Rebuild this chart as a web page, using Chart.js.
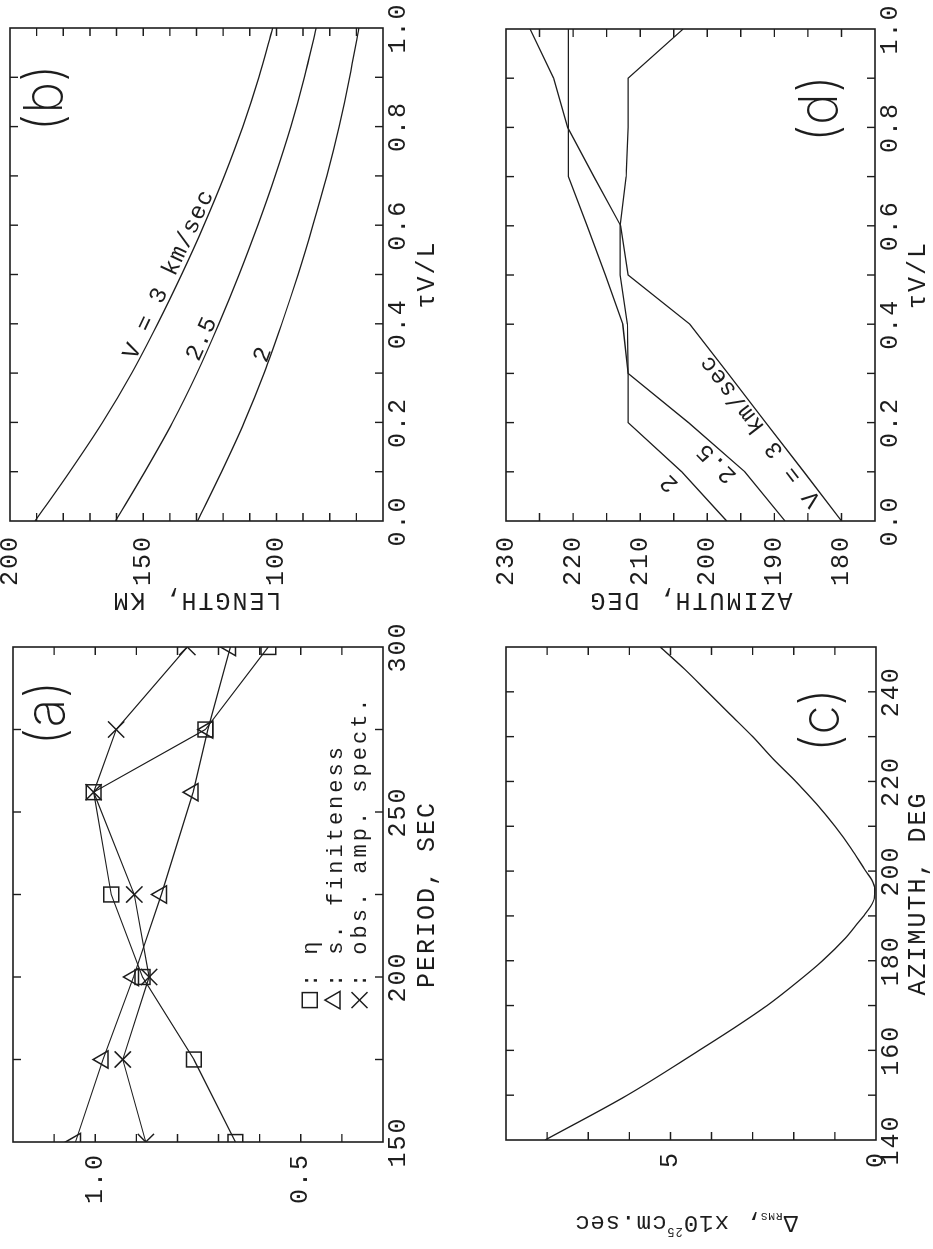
<!DOCTYPE html>
<html lang="en">
<head>
<meta charset="utf-8">
<title>Rupture length, azimuth and source finiteness</title>
<script src="https://cdn.jsdelivr.net/npm/chart.js@4.4.1/dist/chart.umd.min.js"></script>
<style>
  html, body { margin: 0; padding: 0; background: #ffffff; }
  body { position: relative; width: 933px; height: 1249px; overflow: hidden; }
  .panel { position: absolute; transform-origin: 0 0; }
  .panel canvas { display: block; }
</style>
</head>
<body>
<div class="panel" id="panel-b"><canvas id="chart-b"></canvas></div>
<div class="panel" id="panel-d"><canvas id="chart-d"></canvas></div>
<div class="panel" id="panel-a"><canvas id="chart-a"></canvas></div>
<div class="panel" id="panel-c"><canvas id="chart-c"></canvas></div>
<script>
// ---- data -------------------------------------------------------------
// (b) fault length vs tau*V/L for three rupture velocities
const tauVL = [0, 0.1, 0.2, 0.3, 0.4, 0.5, 0.6, 0.7, 0.8, 0.9, 1.0];
const lengthV3  = [190.6, 177.6, 165.3, 154.3, 144.6, 135.6, 127.2, 119.5, 112.6, 106.6, 101.4];
const lengthV25 = [160.4, 149.4, 139.0, 129.8, 121.6, 114.0, 107.0, 100.5, 94.6, 89.5, 85.1];
const lengthV2  = [129.6, 120.6, 112.1, 104.6, 98.0, 91.9, 86.3, 81.1, 76.5, 72.5, 69.1];

// (d) rupture azimuth vs tau*V/L
const azimuthV3  = [180.0, 185.6, 191.3, 196.9, 202.6, 211.8, 212.9, 216.9, 220.8, 222.9, 226.4];
const azimuthV25 = [188.4, 194.4, 202.8, 211.8, 212.6, 215.2, 217.9, 220.7, 220.7, 220.7, 220.7];
const azimuthV2  = [197.1, 203.8, 211.8, 211.8, 211.9, 213.0, 213.0, 212.1, 211.8, 211.8, 203.6];

// (a) ratios vs period
const periods = [150, 175, 200, 225, 256, 275, 300];
const etaValues        = [0.659, 0.760, 0.885, 0.961, 1.004, 0.732, 0.579];
const finitenessValues = [1.048, 0.981, 0.907, 0.839, 0.762, 0.726, 0.671];
const obsAmpValues     = [0.877, 0.933, 0.869, 0.905, 1.004, 0.949, 0.776];

// (c) rms misfit vs azimuth
const rmsAzimuths = [140, 150, 160, 165, 170, 175, 180, 185, 188, 190, 192, 194, 196, 198, 200, 205, 210, 215, 220, 225, 230, 235, 240, 245, 250];
const rmsValues   = [8.05, 6.05, 4.30, 3.45, 2.65, 1.95, 1.30, 0.75, 0.48, 0.30, 0.14, 0.04, 0.03, 0.10, 0.25, 0.60, 1.00, 1.45, 1.95, 2.50, 3.00, 3.55, 4.10, 4.65, 5.25];

// labelled tick values
const tauTickLabels = [0, 0.2, 0.4, 0.6, 0.8, 1.0];
const lengthTickLabels = [100, 150, 200];
const azimuthTickLabels = [180, 190, 200, 210, 220, 230];
const periodTickLabels = [150, 200, 250, 300];
const ratioTickLabels = [0.5, 1.0];
const rmsAzimuthTickLabels = [140, 160, 180, 200, 220, 240];
const rmsTickLabels = [0, 5];

// ---- styling helpers --------------------------------------------------
const INK = '#1d1d1d';
const MONO = "'Liberation Mono', 'DejaVu Sans Mono', monospace";
const LETTER_FONT = "200 54px Inter, 'DejaVu Sans', sans-serif";

const has = (list, v) => list.some(t => Math.abs(t - v) < 1e-6);
const pairs = (xs, ys) => xs.map((x, i) => ({ x, y: ys[i] }));

// frame around the plotting area with inward ticks on all four sides
const framePlugin = {
  id: 'frame',
  beforeDraw(chart) { chart.ctx.letterSpacing = '2px'; },
  afterDatasetsDraw(chart) {
    const { ctx, chartArea: a, scales: { x, y } } = chart;
    const T = 8;
    ctx.save();
    ctx.strokeStyle = INK;
    ctx.lineWidth = 1.4;
    ctx.beginPath();
    x.ticks.forEach(t => {
      const p = x.getPixelForValue(t.value);
      if (p <= a.left + 1 || p >= a.right - 1) return;
      ctx.moveTo(p, a.bottom); ctx.lineTo(p, a.bottom - T);
      ctx.moveTo(p, a.top); ctx.lineTo(p, a.top + T);
    });
    y.ticks.forEach(t => {
      const p = y.getPixelForValue(t.value);
      if (p <= a.top + 1 || p >= a.bottom - 1) return;
      ctx.moveTo(a.left, p); ctx.lineTo(a.left + T, p);
      ctx.moveTo(a.right, p); ctx.lineTo(a.right - T, p);
    });
    ctx.stroke();
    ctx.lineWidth = 1.6;
    ctx.strokeRect(a.left, a.top, a.right - a.left, a.bottom - a.top);
    ctx.restore();
  }
};

// free text placed in data coordinates, optionally rotated along a curve segment
const notesPlugin = {
  id: 'notes',
  afterDatasetsDraw(chart, args, opts) {
    const { ctx, scales: { x, y } } = chart;
    (opts.items || []).forEach(it => {
      ctx.save();
      ctx.font = it.font;
      ctx.letterSpacing = it.spacing || '0px';
      ctx.fillStyle = INK;
      ctx.textAlign = 'center';
      ctx.textBaseline = 'middle';
      let ang = 0;
      if (it.along) {
        const [x1, y1, x2, y2] = it.along;
        ang = Math.atan2(y.getPixelForValue(y2) - y.getPixelForValue(y1),
                         x.getPixelForValue(x2) - x.getPixelForValue(x1));
      }
      ctx.translate(x.getPixelForValue(it.x), y.getPixelForValue(it.y));
      ctx.rotate(ang);
      ctx.fillText(it.text, 0, 0);
      ctx.restore();
    });
  }
};

// symbol key for panel (a)
const keyPlugin = {
  id: 'symbolKey',
  afterDatasetsDraw(chart, args, opts) {
    if (!opts.rows) return;
    const { ctx, scales: { x, y } } = chart;
    ctx.save();
    ctx.strokeStyle = INK;
    ctx.fillStyle = INK;
    ctx.lineWidth = 1.5;
    ctx.font = `22px ${MONO}`;
    ctx.letterSpacing = '3px';
    ctx.textBaseline = 'middle';
    ctx.textAlign = 'left';
    const mx = x.getPixelForValue(opts.period);
    opts.rows.forEach(r => {
      const my = y.getPixelForValue(r.value);
      ctx.beginPath();
      if (r.symbol === 'rect') {
        ctx.rect(mx - 7.5, my - 7.5, 15, 15);
      } else if (r.symbol === 'triangle') {
        ctx.moveTo(mx, my - 10); ctx.lineTo(mx + 8.7, my + 5); ctx.lineTo(mx - 8.7, my + 5); ctx.closePath();
      } else {
        ctx.moveTo(mx - 8, my - 8); ctx.lineTo(mx + 8, my + 8);
        ctx.moveTo(mx + 8, my - 8); ctx.lineTo(mx - 8, my + 8);
      }
      ctx.stroke();
      ctx.fillText(r.text, mx + 13, my + 1);
    });
    ctx.restore();
  }
};

// y title of panel (c) with sub- and superscript
const rmsTitlePlugin = {
  id: 'rmsTitle',
  afterDraw(chart, args, opts) {
    if (!opts.show) return;
    const { ctx, chartArea: a } = chart;
    const parts = [
      { t: '\u0394', size: 24, dy: 0 },
      { t: 'RMS', size: 11, dy: 6 },
      { t: ', x10', size: 24, dy: 0 },
      { t: '25', size: 12, dy: -9 },
      { t: 'cm.sec', size: 24, dy: 0 }
    ];
    ctx.save();
    ctx.fillStyle = INK;
    ctx.textBaseline = 'middle';
    ctx.textAlign = 'left';
    ctx.letterSpacing = '1px';
    let total = 0;
    parts.forEach(p => { ctx.font = `${p.size}px ${MONO}`; p.w = ctx.measureText(p.t).width; total += p.w; });
    ctx.translate(opts.offset, (a.top + a.bottom) / 2 - 5);
    ctx.rotate(-Math.PI / 2);
    let cx = -total / 2;
    parts.forEach(p => { ctx.font = `${p.size}px ${MONO}`; ctx.fillText(p.t, cx, p.dy); cx += p.w; });
    ctx.restore();
  }
};

// ---- panel construction -----------------------------------------------
function axisFont(size) { return { family: MONO, size, weight: 'normal' }; }

function makeScales(g, sx, sy) {
  return {
    x: {
      type: 'linear', position: 'bottom', min: sx.min, max: sx.max,
      ticks: { stepSize: sx.step, autoSkip: false, maxRotation: 0, minRotation: 0,
               padding: g.xTickPad, color: INK, font: axisFont(25), callback: sx.label },
      grid: { display: false, drawTicks: false }, border: { display: false },
      title: { display: !!sx.title, text: sx.title, color: INK, font: axisFont(25),
               padding: { top: 0, bottom: g.xTitlePad } },
      afterFit(s) { s.height = g.H - g.bottom; s.paddingLeft = 0; s.paddingRight = 0; }
    },
    y: {
      type: 'linear', position: 'left', min: sy.min, max: sy.max,
      ticks: { stepSize: sy.step, autoSkip: false, padding: g.yTickPad, color: INK,
               font: axisFont(25), callback: sy.label },
      grid: { display: false, drawTicks: false }, border: { display: false },
      title: { display: !!sy.title, text: sy.title, color: INK, font: axisFont(25),
               padding: { top: g.yTitlePad, bottom: 0 } },
      afterFit(s) { s.width = g.left; s.paddingTop = 0; s.paddingBottom = 0; }
    }
  };
}

function makePanel(key, g, datasets, sx, sy, pluginOpts) {
  const holder = document.getElementById('panel-' + key);
  holder.style.left = g.x0 + 'px';
  holder.style.top = g.y0 + 'px';
  holder.style.width = g.W + 'px';
  holder.style.height = g.H + 'px';
  // the figure is laid out sideways: each panel is drawn upright, then turned a quarter left
  holder.style.transform = `translate(0px, ${g.W}px) rotate(-90deg)`;
  const canvas = document.getElementById('chart-' + key);
  canvas.width = g.W;
  canvas.height = g.H;
  return new Chart(canvas, {
    type: 'scatter',
    data: { datasets },
    plugins: [framePlugin, notesPlugin, keyPlugin, rmsTitlePlugin],
    options: {
      responsive: false, animation: false, devicePixelRatio: 1,
      layout: { padding: { left: 0, top: g.top, right: g.W - g.right, bottom: 0 } },
      scales: makeScales(g, sx, sy),
      plugins: Object.assign({ legend: { display: false }, tooltip: { enabled: false } }, pluginOpts)
    }
  });
}

function curve(data) {
  return { data, showLine: true, borderColor: INK, borderWidth: 1.3, pointRadius: 0,
           cubicInterpolationMode: 'monotone', fill: false };
}
function polyline(data) {
  return { data, showLine: true, borderColor: INK, borderWidth: 1.3, pointRadius: 0,
           tension: 0, fill: false };
}
function marked(data, style, radius) {
  return { data, showLine: true, borderColor: INK, borderWidth: 1.2, tension: 0, fill: false,
           pointStyle: style, pointRadius: radius, pointBorderWidth: 1.5,
           pointBorderColor: INK, pointBackgroundColor: 'rgba(0,0,0,0)' };
}

const tauLabel = v => has(tauTickLabels, v) ? v.toFixed(1) : '';
const curveFont = `24px ${MONO}`;

// (b) LENGTH vs tau V / L
makePanel('b',
  { x0: 0, y0: 0, W: 624, H: 466, left: 103, right: 596, top: 10, bottom: 383,
    xTickPad: 0, xTitlePad: 24, yTickPad: 14, yTitlePad: 9 },
  [curve(pairs(tauVL, lengthV3)), curve(pairs(tauVL, lengthV25)), curve(pairs(tauVL, lengthV2))],
  { min: 0, max: 1, step: 0.1, label: tauLabel, title: '\u03c4V/L' },
  { min: 60, max: 200, step: 10, label: v => has(lengthTickLabels, v) ? String(v) : '', title: 'LENGTH, KM' },
  { notes: { items: [
      { text: 'V = 3 km/sec', x: 0.50, y: 140.3, font: curveFont, spacing: '1px',
        along: [tauVL[3], lengthV3[3], tauVL[7], lengthV3[7]] },
      { text: '2.5', x: 0.37, y: 127.9, font: curveFont, spacing: '1px',
        along: [tauVL[2], lengthV25[2], tauVL[5], lengthV25[5]] },
      { text: '2', x: 0.337, y: 105.0, font: curveFont,
        along: [tauVL[2], lengthV2[2], tauVL[5], lengthV2[5]] },
      { text: '(b)', x: 0.858, y: 186.5, font: LETTER_FONT }
  ] } }
);

// (d) AZIMUTH vs tau V / L
makePanel('d',
  { x0: 466, y0: 0, W: 624, H: 467, left: 103, right: 595, top: 40, bottom: 409,
    xTickPad: 0, xTitlePad: 0, yTickPad: 14, yTitlePad: 9 },
  [polyline(pairs(tauVL, azimuthV3)), polyline(pairs(tauVL, azimuthV25)), polyline(pairs(tauVL, azimuthV2))],
  { min: 0, max: 1, step: 0.1, label: tauLabel, title: '\u03c4V/L' },
  { min: 175, max: 230, step: 5, label: v => has(azimuthTickLabels, v) ? String(v) : '', title: 'AZIMUTH, DEG' },
  { notes: { items: [
      { text: 'V = 3 km/sec', x: 0.183, y: 192.1, font: curveFont, spacing: '1px',
        along: [tauVL[0], azimuthV3[0], tauVL[4], azimuthV3[4]] },
      { text: '2.5', x: 0.118, y: 198.6, font: curveFont, spacing: '1px',
        along: [tauVL[0], azimuthV25[0], tauVL[2], azimuthV25[2]] },
      { text: '2', x: 0.077, y: 205.6, font: curveFont,
        along: [tauVL[0], azimuthV2[0], tauVL[2], azimuthV2[2]] },
      { text: '(d)', x: 0.838, y: 183.1, font: LETTER_FONT }
  ] } }
);

// (a) ratios vs PERIOD
makePanel('a',
  { x0: 0, y0: 624, W: 625, H: 466, left: 107, right: 602, top: 10, bottom: 383,
    xTickPad: 0, xTitlePad: 24, yTickPad: 11, yTitlePad: 0 },
  [marked(pairs(periods, etaValues), 'rect', 10.5),
   marked(pairs(periods, finitenessValues), 'triangle', 10),
   marked(pairs(periods, obsAmpValues), 'crossRot', 11.5)],
  { min: 150, max: 300, step: 25, label: v => has(periodTickLabels, v) ? String(v) : '', title: 'PERIOD, SEC' },
  { min: 0.3, max: 1.2, step: 0.1, label: v => has(ratioTickLabels, v) ? v.toFixed(1) : '', title: '' },
  { notes: { items: [ { text: '(a)', x: 280, y: 1.115, font: LETTER_FONT } ] },
    symbolKey: { period: 193, rows: [
      { symbol: 'rect', value: 0.478, text: ': \u03b7' },
      { symbol: 'triangle', value: 0.417, text: ': s. finiteness' },
      { symbol: 'cross', value: 0.357, text: ': obs. amp. spect.' }
    ] } }
);

// (c) rms misfit vs AZIMUTH
makePanel('c',
  { x0: 466, y0: 624, W: 625, H: 467, left: 109, right: 602, top: 40, bottom: 410,
    xTickPad: 0, xTitlePad: 0, yTickPad: 11, yTitlePad: 0 },
  [curve(pairs(rmsAzimuths, rmsValues))],
  { min: 140, max: 250, step: 10, label: v => has(rmsAzimuthTickLabels, v) ? String(v) : '', title: 'AZIMUTH, DEG' },
  { min: 0, max: 9, step: 1, label: v => has(rmsTickLabels, v) ? String(v) : '', title: '' },
  { notes: { items: [ { text: '(c)', x: 233.7, y: 1.3, font: LETTER_FONT } ] },
    rmsTitle: { show: true, offset: 27 } }
);
</script>
</body>
</html>
